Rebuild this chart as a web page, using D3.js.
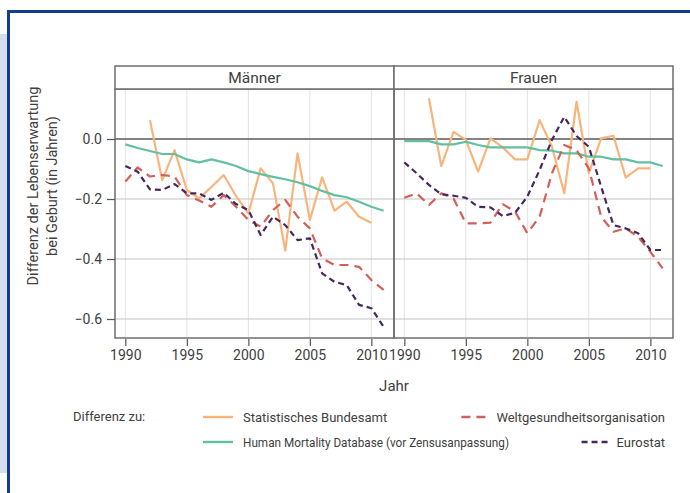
<!DOCTYPE html>
<html><head><meta charset="utf-8">
<script src="https://cdn.jsdelivr.net/npm/d3@7"></script>
<style>
body{margin:0;background:#fff;}
svg{display:block;font-family:Roboto, "Open Sans", sans-serif;}
</style></head>
<body><svg id="c" width="690" height="493"></svg>
<script>
const years = [1990,1991,1992,1993,1994,1995,1996,1997,1998,1999,2000,2001,2002,2003,2004,2005,2006,2007,2008,2009,2010,2011];
const panels = ["Männer","Frauen"];
const xTicks = [1990,1995,2000,2005,2010];
const yTicks = [0.0,-0.2,-0.4,-0.6];
const seriesNames = ["Statistisches Bundesamt","Human Mortality Database (vor Zensusanpassung)","Weltgesundheitsorganisation","Eurostat"];
// Männer
const destatisM = [null,null,0.063,-0.137,-0.037,-0.17,-0.198,-0.16,-0.12,-0.19,-0.248,-0.098,-0.148,-0.372,-0.048,-0.27,-0.128,-0.239,-0.209,-0.259,-0.279,null];
const hmdM = [-0.018,-0.03,-0.04,-0.05,-0.05,-0.068,-0.078,-0.068,-0.078,-0.09,-0.107,-0.117,-0.126,-0.134,-0.144,-0.157,-0.173,-0.187,-0.194,-0.209,-0.226,-0.239];
const whoM = [-0.142,-0.095,-0.125,-0.12,-0.125,-0.187,-0.205,-0.226,-0.187,-0.226,-0.27,-0.292,-0.237,-0.203,-0.259,-0.298,-0.398,-0.42,-0.42,-0.426,-0.47,-0.503];
const eurostatM = [-0.09,-0.109,-0.168,-0.17,-0.15,-0.181,-0.181,-0.203,-0.179,-0.217,-0.237,-0.32,-0.259,-0.287,-0.337,-0.331,-0.448,-0.476,-0.487,-0.553,-0.564,-0.626];
// Frauen
const destatisF = [null,null,0.136,-0.09,0.024,-0.003,-0.109,0.002,-0.028,-0.068,-0.068,0.063,-0.026,-0.181,0.124,-0.114,0.002,0.011,-0.129,-0.098,-0.098,null];
const hmdF = [-0.007,-0.007,-0.007,-0.018,-0.018,-0.009,-0.02,-0.028,-0.028,-0.028,-0.028,-0.037,-0.039,-0.048,-0.048,-0.059,-0.059,-0.068,-0.068,-0.078,-0.078,-0.09];
const whoF = [-0.196,-0.181,-0.22,-0.181,-0.198,-0.281,-0.281,-0.279,-0.217,-0.242,-0.314,-0.259,-0.114,-0.02,-0.037,-0.098,-0.259,-0.309,-0.298,-0.326,-0.376,-0.431];
const eurostatF = [-0.078,-0.114,-0.153,-0.184,-0.189,-0.196,-0.226,-0.228,-0.257,-0.246,-0.192,-0.103,-0.003,0.074,0.01,-0.026,-0.159,-0.287,-0.298,-0.314,-0.37,-0.37];

const colors = ["#f9b47c","#62c0a0","#d2605a","#46295c"];
const dashes = [null,null,"9,6","6,4"];

const svg = d3.select("#c");
const txt = "#404040";

// outer frame
svg.append("rect").attr("x",0).attr("y",34).attr("width",7).attr("height",439).attr("fill","#d3ddeb");
svg.append("line").attr("x1",8.5).attr("x2",8.5).attr("y1",10).attr("y2",493).attr("stroke","#123c8c").attr("stroke-width",3);
svg.append("line").attr("x1",7).attr("x2",690).attr("y1",11.5).attr("y2",11.5).attr("stroke","#123c8c").attr("stroke-width",3);

const y = d3.scaleLinear().domain([0.1667,-0.6633]).range([89,338]);
const dom = [1989.16,2011.84];
const xs = [d3.scaleLinear().domain(dom).range([115,394]), d3.scaleLinear().domain(dom).range([394,673])];
const data = [[destatisM,hmdM,whoM,eurostatM],[destatisF,hmdF,whoF,eurostatF]];

panels.forEach((p,i)=>{
  const x = xs[i];
  const [x0,x1] = x.range();
  const g = svg.append("g");
  g.selectAll(".vg").data(xTicks).join("line").attr("x1",d=>x(d)).attr("x2",d=>x(d)).attr("y1",89).attr("y2",338).attr("stroke","#e2e2e2").attr("stroke-width",1);
  g.selectAll(".hg").data(yTicks.filter(d=>d!==0)).join("line").attr("x1",x0).attr("x2",x1).attr("y1",d=>y(d)).attr("y2",d=>y(d)).attr("stroke","#c4c4c4").attr("stroke-width",1.2);
  g.append("line").attr("x1",x0).attr("x2",x1).attr("y1",y(0)).attr("y2",y(0)).attr("stroke","#5a5a5a").attr("stroke-width",1.6);
  const cid = "clip"+i;
  svg.append("clipPath").attr("id",cid).append("rect").attr("x",x0).attr("y",89).attr("width",x1-x0).attr("height",249);
  const lg = g.append("g").attr("clip-path",`url(#${cid})`);
  data[i].forEach((s,k)=>{
    const line = d3.line().defined(d=>d[1]!=null).x(d=>x(d[0])).y(d=>y(d[1]));
    lg.append("path").datum(years.map((yr,j)=>[yr,s[j]])).attr("d",line)
      .attr("fill","none").attr("stroke",colors[k]).attr("stroke-width",2.2)
      .attr("stroke-dasharray",dashes[k]).attr("stroke-linejoin","round");
  });
  g.append("rect").attr("x",x0).attr("y",89).attr("width",x1-x0).attr("height",249).attr("fill","none").attr("stroke","#6e6e6e").attr("stroke-width",1.5);
  g.append("rect").attr("x",x0).attr("y",66).attr("width",x1-x0).attr("height",23).attr("fill","#fff").attr("stroke","#6e6e6e").attr("stroke-width",1.5);
  g.append("text").attr("x",(x0+x1)/2).attr("y",78).attr("dy","0.35em").attr("text-anchor","middle").attr("fill",txt).attr("font-size",15.5).text(p);
  const ax = svg.append("g").attr("transform","translate(0,339)").call(d3.axisBottom(x).tickValues(xTicks).tickFormat(d3.format("d")).tickSize(7).tickPadding(4));
  ax.select(".domain").remove();
  ax.selectAll(".tick line").attr("stroke","#555").attr("stroke-width",1.2);
  ax.selectAll("text").attr("fill",txt).attr("font-size",14).attr("font-family","Roboto, sans-serif");
});

const ay = svg.append("g").attr("transform","translate(115,0)").call(d3.axisLeft(y).tickValues(yTicks).tickFormat(d=>d3.format(".1f")(d)).tickSize(8).tickPadding(5));
ay.select(".domain").remove();
ay.selectAll(".tick line").attr("stroke","#555").attr("stroke-width",1.2);
ay.selectAll("text").attr("fill",txt).attr("font-size",14).attr("font-family","Roboto, sans-serif");

const yt = svg.append("text").attr("transform","translate(0,186) rotate(-90)").attr("text-anchor","middle").attr("fill",txt).attr("font-size",14.5);
yt.append("tspan").attr("x",0).attr("y",38).text("Differenz der Lebenserwartung");
yt.append("tspan").attr("x",0).attr("y",57).text("bei Geburt (in Jahren)");

svg.append("text").attr("x",394).attr("y",386).attr("dy","0.35em").attr("text-anchor","middle").attr("fill",txt).attr("font-size",15).text("Jahr");

svg.append("text").attr("x",73).attr("y",416).attr("dy","0.35em").attr("fill",txt).attr("font-size",13).text("Differenz zu:");
const legItems = [
  {k:0,col:0,row:0},{k:2,col:1,row:0},{k:1,col:0,row:1},{k:3,col:1,row:1}
];
legItems.forEach(it=>{
  const yy = it.row===0 ? 417 : 442;
  const t = svg.append("text").attr("y",yy).attr("dy","0.35em").attr("fill",txt).attr("font-size",13).text(seriesNames[it.k]);
  if(it.k===1) t.attr("textLength",266).attr("lengthAdjust","spacingAndGlyphs");
  let tx, kx;
  if(it.col===0){ tx = 243; t.attr("x",tx); kx = 203; }
  else { const w = t.node().getComputedTextLength(); tx = 665 - w; t.attr("x",tx); kx = tx - 35; }
  svg.append("line").attr("x1",kx).attr("x2",kx+30).attr("y1",yy).attr("y2",yy)
    .attr("stroke",colors[it.k]).attr("stroke-width",2.4).attr("stroke-dasharray",dashes[it.k]);
});
</script></body></html>
